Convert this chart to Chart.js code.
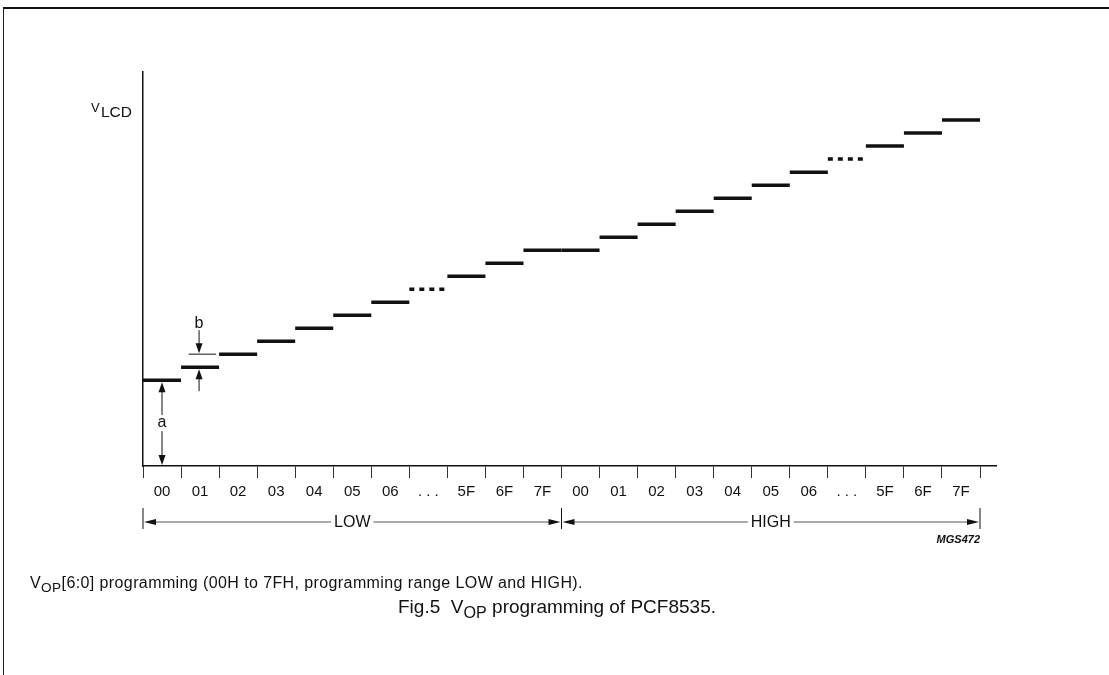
<!DOCTYPE html>
<html>
<head>
<meta charset="utf-8">
<title>VOP programming of PCF8535</title>
<script src="https://cdn.jsdelivr.net/npm/chart.js@4"></script>
<style>
  body { margin: 0; background: #fff; }
  #wrap {
    position: relative; width: 1109px; height: 675px; overflow: hidden;
    font-family: "Liberation Sans", Arial, sans-serif; color: #111;
  }
  #frame {
    position: absolute; left: 3px; top: 7px; right: -4px; bottom: -4px;
    border-left: 1px solid #222; border-top: 2px solid #111;
  }
  #vop { position: absolute; left: 0; top: 0; }
  .note { position: absolute; left: 30px; top: 574px; font-size: 16px; letter-spacing: 0.4px; line-height: 17px; }
  .title { position: absolute; left: 0; width: 1114px; top: 596px; text-align: center; font-size: 19px; line-height: 22px; }
  sub { font-size: 0.85em; vertical-align: -0.3em; line-height: 0; }
</style>
</head>
<body>
<div id="wrap">
  <div id="frame"></div>
  <canvas id="vop" width="1109" height="675"></canvas>
  <div class="note">V<sub>OP</sub>[6:0] programming (00H to 7FH, programming range LOW and HIGH).</div>
  <div class="title">Fig.5&nbsp; V<sub>OP</sub> programming of PCF8535.</div>
</div>
<script>
// register codes along the x axis (LOW range, then HIGH range)
const codes = ['00', '01', '02', '03', '04', '05', '06', '. . .', '5F', '6F', '7F',
               '00', '01', '02', '03', '04', '05', '06', '. . .', '5F', '6F', '7F'];
// VLCD level for each code, in units of one step (b); first level is a
const vlcd = [6.6, 7.6, 8.6, 9.6, 10.6, 11.6, 12.6, 13.6, 14.6, 15.6, 16.6,
              16.6, 17.6, 18.6, 19.6, 20.6, 21.6, 22.6, 23.6, 24.6, 25.6, 26.6];
const skipped = '. . .';
const ranges = [
  { label: 'LOW', from: 0, to: 11 },
  { label: 'HIGH', from: 11, to: 22 },
];
const yTop = 30.3;
const xEnd = 22.42;

const ink = '#111';
const font = "'Liberation Sans', Arial, sans-serif";

// each code is a flat step; a null point breaks the line between steps
const steps = [];
vlcd.forEach((v, i) => {
  steps.push({ x: i, y: v }, { x: i + 1, y: v }, { x: i + 1, y: null });
});

function arrowV(ctx, x, tipY, dir) {
  // dir = -1 points up, 1 points down
  ctx.beginPath();
  ctx.moveTo(x, tipY);
  ctx.lineTo(x - 3.5, tipY - dir * 10);
  ctx.lineTo(x + 3.5, tipY - dir * 10);
  ctx.closePath();
  ctx.fill();
}

function arrowH(ctx, tipX, y, dir) {
  // dir = -1 points left, 1 points right
  ctx.beginPath();
  ctx.moveTo(tipX, y);
  ctx.lineTo(tipX - dir * 12, y - 3);
  ctx.lineTo(tipX - dir * 12, y + 3);
  ctx.closePath();
  ctx.fill();
}

const notes = {
  id: 'notes',
  afterDraw(chart) {
    const { ctx, scales: { x, y } } = chart;
    ctx.save();
    ctx.fillStyle = ink;
    ctx.strokeStyle = ink;

    // axis name
    ctx.textBaseline = 'alphabetic';
    ctx.textAlign = 'left';
    ctx.font = '13px ' + font;
    ctx.fillText('V', 91, 112);
    ctx.font = '15.5px ' + font;
    ctx.fillText('LCD', 101, 117);

    // a: height of the first level above zero
    const ax = x.getPixelForValue(0.5);
    const a0 = y.getPixelForValue(0);
    const a1 = y.getPixelForValue(vlcd[0]);
    const am = (a0 + a1) / 2;
    ctx.lineWidth = 1;
    ctx.beginPath();
    ctx.moveTo(ax, a1 + 8); ctx.lineTo(ax, am - 8);
    ctx.moveTo(ax, am + 8); ctx.lineTo(ax, a0 - 8);
    ctx.stroke();
    arrowV(ctx, ax, a1 + 2, -1);
    arrowV(ctx, ax, a0 - 1, 1);
    ctx.font = '16px ' + font;
    ctx.textAlign = 'center';
    ctx.textBaseline = 'middle';
    ctx.fillText('a', ax, am);

    // b: one step between neighbouring levels
    const bx = x.getPixelForValue(1.5) - 1;
    const b1 = y.getPixelForValue(vlcd[1]);
    const b2 = y.getPixelForValue(vlcd[2]);
    ctx.beginPath();
    ctx.moveTo(x.getPixelForValue(1.2), b2); ctx.lineTo(x.getPixelForValue(1.92), b2);
    ctx.moveTo(bx, b2 - 24); ctx.lineTo(bx, b2 - 6);
    ctx.moveTo(bx, b1 + 8); ctx.lineTo(bx, b1 + 24);
    ctx.stroke();
    arrowV(ctx, bx, b2 - 1, 1);
    arrowV(ctx, bx, b1 + 2, -1);
    ctx.fillText('b', bx, b2 - 31);

    // LOW / HIGH range brackets
    const by = 522;
    ctx.font = '16px ' + font;
    ranges.forEach(r => {
      const l = x.getPixelForValue(r.from);
      const rr = x.getPixelForValue(r.to);
      const mid = (l + rr) / 2;
      const half = ctx.measureText(r.label).width / 2 + 3;
      ctx.strokeStyle = ink;
      ctx.lineWidth = 1;
      ctx.beginPath();
      ctx.moveTo(l, 508); ctx.lineTo(l, 529);
      ctx.moveTo(rr, 508); ctx.lineTo(rr, 529);
      ctx.stroke();
      ctx.strokeStyle = '#555';
      ctx.beginPath();
      ctx.moveTo(l + 10, by); ctx.lineTo(mid - half, by);
      ctx.moveTo(mid + half, by); ctx.lineTo(rr - 10, by);
      ctx.stroke();
      arrowH(ctx, l + 1, by, -1);
      arrowH(ctx, rr - 1, by, 1);
      ctx.fillText(r.label, mid, by + 1);
    });

    // drawing reference
    ctx.font = 'italic bold 11px ' + font;
    ctx.textAlign = 'right';
    ctx.textBaseline = 'alphabetic';
    ctx.fillText('MGS472', x.getPixelForValue(22), 543);
    ctx.restore();
  }
};

new Chart(document.getElementById('vop'), {
  type: 'line',
  data: {
    datasets: [{
      data: steps,
      borderColor: ink,
      borderWidth: 3.5,
      borderCapStyle: 'butt',
      pointRadius: 0,
      spanGaps: false,
      tension: 0,
      segment: {
        borderDash: c => codes[Math.floor(c.p0DataIndex / 3)] === skipped ? [5, 5] : undefined,
      },
    }],
  },
  options: {
    responsive: false,
    animation: false,
    layout: { padding: { left: 143, right: 113, top: 72, bottom: 169 } },
    plugins: { legend: { display: false }, tooltip: { enabled: false } },
    scales: {
      x: {
        type: 'linear',
        min: 0,
        max: xEnd,
        afterBuildTicks: s => {
          s.ticks = codes.map((c, i) => ({ value: i })).concat([{ value: codes.length }]);
        },
        afterFit: s => { s.height = 40; },
        ticks: {
          callback: (v, i) => codes[i] ?? '',
          labelOffset: 19,
          padding: 5,
          autoSkip: false,
          maxRotation: 0,
          color: ink,
          font: { family: font, size: 15 },
        },
        grid: { drawOnChartArea: false, tickLength: 12, color: '#333', tickWidth: 1 },
        border: { color: ink, width: 1.5 },
      },
      y: {
        min: 0,
        max: yTop,
        afterFit: s => { s.width = 0; },
        ticks: { display: false },
        grid: { drawOnChartArea: false, drawTicks: false },
        border: { color: ink, width: 1.5 },
      },
    },
  },
  plugins: [notes],
});
</script>
</body>
</html>
